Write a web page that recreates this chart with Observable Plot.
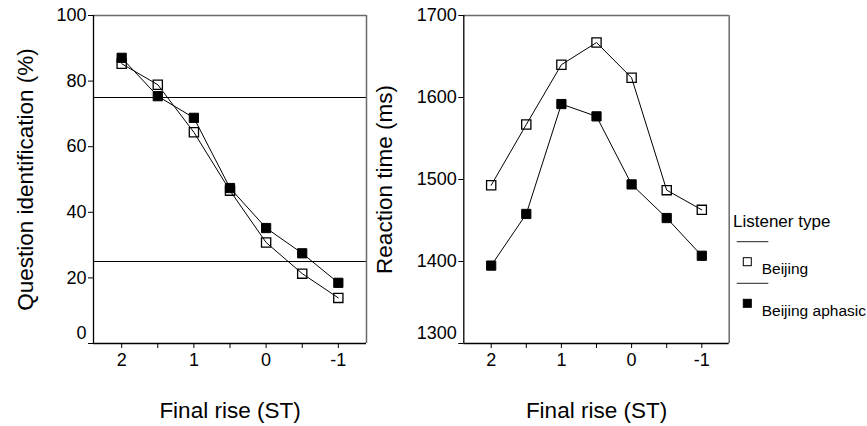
<!DOCTYPE html>
<html>
<head>
<meta charset="utf-8">
<script src="https://cdn.jsdelivr.net/npm/d3@7"></script>
<script src="https://cdn.jsdelivr.net/npm/@observablehq/plot@0.6"></script>
<style>
  body { margin: 0; background: #fff; }
  #wrap { position: relative; width: 867px; height: 426px; overflow: hidden; background: #fff; }
  #wrap > svg, #wrap > figure { position: absolute; top: 0; margin: 0; }
</style>
</head>
<body>
<div id="wrap"></div>
<script>
// ---- data ----
const finalRise = [2, 1.5, 1, 0.5, 0, -0.5, -1];
const seriesNames = ["Beijing", "Beijing aphasic"];
const identBeijing = [85.3, 78.9, 64.4, 46.6, 30.8, 21.3, 13.9];
const identAphasic = [87.1, 75.4, 68.8, 47.4, 35.2, 27.5, 18.5];
const rtBeijing = [1493, 1567, 1640, 1667, 1624, 1487, 1463];
const rtAphasic = [1395, 1458, 1592, 1577, 1494, 1453, 1407];
const thresholdLines = [75, 25];
const identTicks = [0, 20, 40, 60, 80, 100];
const rtTicks = [1300, 1400, 1500, 1600, 1700];
const xTicks = [2, 1.5, 1, 0.5, 0, -0.5, -1];
const xTitle = "Final rise (ST)";
const legendTitle = "Listener type";

const xDomain = [2.39, -1.39];
const FONT = "'Liberation Sans', Arial, Helvetica, sans-serif";

function rowsOf(a, b) {
  return [
    ...finalRise.map((x, i) => ({x, y: a[i], series: seriesNames[0]})),
    ...finalRise.map((x, i) => ({x, y: b[i], series: seriesNames[1]}))
  ];
}

function panel(o) {
  const rows = rowsOf(o.a, o.b);
  const y0 = o.yDomain[0], y1 = o.yDomain[1];
  return Plot.plot({
    width: o.width, height: 426,
    marginTop: 15, marginBottom: 83, marginLeft: o.ml, marginRight: o.mr,
    style: {fontFamily: FONT, fontSize: "18px", color: "#000", background: "transparent", overflow: "visible"},
    x: {domain: xDomain},
    y: {domain: o.yDomain},
    marks: [
      Plot.ruleY(o.rules, {stroke: "#000", strokeWidth: 1}),
      Plot.ruleY([y1], {stroke: "#6a6a6a", strokeWidth: 1.5}),
      Plot.ruleX([xDomain[1]], {stroke: "#6a6a6a", strokeWidth: 1.5}),
      Plot.ruleX([xDomain[0]], {stroke: "#000", strokeWidth: 1.3}),
      Plot.ruleY([y0], {stroke: "#000", strokeWidth: 1.3}),
      Plot.axisY({ticks: o.yTicks, tickSize: 5, tickPadding: 2, label: null, fontSize: 18,
        tickFormat: d => d === y0 ? "" : String(d)}),
      Plot.text([y0], {y: d => d, frameAnchor: "left", dx: -7, dy: -10, textAnchor: "end",
        text: d => String(d), fontSize: 18}),
      Plot.axisX({ticks: xTicks, tickSize: 5, tickPadding: 5, label: null, fontSize: 18,
        tickFormat: d => Number.isInteger(d) ? String(d) : ""}),
      Plot.line(rows, {x: "x", y: "y", z: "series", stroke: "#000", strokeWidth: 1}),
      Plot.dot(rows.filter(d => d.series === seriesNames[0]), {x: "x", y: "y", symbol: "square", r: 5.2, fill: "none", stroke: "#000", strokeWidth: 1.3}),
      Plot.dot(rows.filter(d => d.series === seriesNames[1]), {x: "x", y: "y", symbol: "square", r: 5.2, fill: "#000", stroke: "#000", strokeWidth: 1}),
      Plot.text([o.yLabel], {frameAnchor: "left", dx: o.titleDx, rotate: -90, textAnchor: "middle", lineAnchor: "middle", fontSize: 22.5}),
      Plot.text([xTitle], {frameAnchor: "bottom", dy: 67.7, textAnchor: "middle", lineAnchor: "middle", fontSize: 22.5})
    ]
  });
}

const wrap = document.getElementById("wrap");

const left = panel({a: identBeijing, b: identAphasic, yDomain: [0, 100], yTicks: identTicks,
  rules: thresholdLines, yLabel: "Question identification (%)", width: 370, ml: 93, mr: 4, titleDx: -68});
left.style.left = "0px";
wrap.appendChild(left);

const right = panel({a: rtBeijing, b: rtAphasic, yDomain: [1300, 1700], yTicks: rtTicks,
  rules: [], yLabel: "Reaction time (ms)", width: 497, ml: 93.3, mr: 138.3, titleDx: -79});
right.style.left = "370px";
wrap.appendChild(right);

// ---- legend ----
const lg = d3.select(wrap).append("svg")
  .attr("width", 867).attr("height", 426)
  .style("position", "absolute").style("left", "0px").style("top", "0px")
  .style("font-family", FONT);
lg.append("text").attr("x", 733).attr("y", 226.7).attr("font-size", 17).text(legendTitle);
seriesNames.forEach((name, i) => {
  const y0 = 241.7 + i * 41.6;
  lg.append("line").attr("x1", 736.7).attr("x2", 768.3).attr("y1", y0).attr("y2", y0)
    .attr("stroke", "#222").attr("stroke-width", 1);
  lg.append("rect").attr("x", 743.3).attr("y", y0 + 16).attr("width", 8).attr("height", 8)
    .attr("fill", i === 0 ? "none" : "#000").attr("stroke", "#000").attr("stroke-width", 1);
  lg.append("text").attr("x", 761.7).attr("y", y0 + 32.3).attr("font-size", 15.5).text(name);
});
</script>
</body>
</html>
